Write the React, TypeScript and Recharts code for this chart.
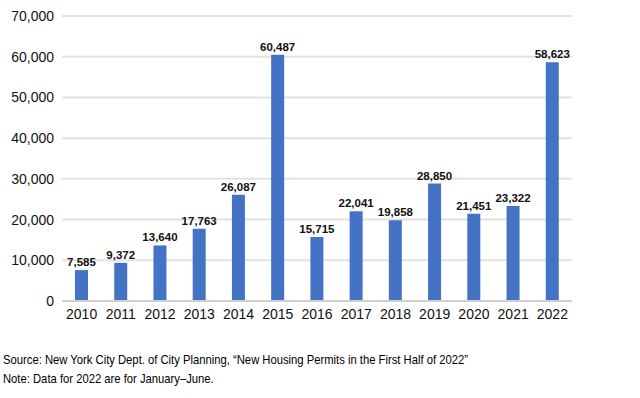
import { BarChart, Bar, XAxis, YAxis, CartesianGrid, LabelList } from "recharts";

const years = ["2010", "2011", "2012", "2013", "2014", "2015", "2016", "2017", "2018", "2019", "2020", "2021", "2022"];
const permits = [7585, 9372, 13640, 17763, 26087, 60487, 15715, 22041, 19858, 28850, 21451, 23322, 58623];
const yTicks = [0, 10000, 20000, 30000, 40000, 50000, 60000, 70000];

const data = years.map((year, i) => ({ year, permits: permits[i] }));

const fmt = (v: number) => v.toLocaleString("en-US");

export default function App() {
  return (
    <div
      style={{
        position: "absolute",
        left: 0,
        top: 0,
        width: 640,
        height: 398,
        background: "#fff",
        fontFamily: "'Liberation Sans', Arial, sans-serif",
      }}
    >
      <BarChart
        width={640}
        height={330}
        data={data}
        margin={{ top: 16, right: 68, bottom: 9, left: 0 }}
      >
        <CartesianGrid vertical={false} stroke="#e2e2e2" strokeWidth={2} />
        <XAxis
          dataKey="year"
          tickLine={false}
          axisLine={{ stroke: "#d0d0d0", strokeWidth: 2 }}
          tick={{ fill: "#111", fontSize: 14 }}
          height={20}
          interval={0}
        />
        <YAxis
          width={62}
          domain={[0, 70000]}
          ticks={yTicks}
          tickFormatter={fmt}
          tickLine={false}
          axisLine={false}
          tick={{ fill: "#111", fontSize: 14 }}
        />
        <Bar dataKey="permits" fill="#4472c4" barSize={13} isAnimationActive={false}>
          <LabelList
            dataKey="permits"
            position="top"
            formatter={(v: any) => fmt(Number(v))}
            style={{ fill: "#111", fontSize: 11.5, fontWeight: 700 }}
            offset={4}
          />
        </Bar>
      </BarChart>
      <div
        style={{
          position: "absolute",
          left: 3,
          top: 350,
          fontSize: 13,
          lineHeight: "19px",
          color: "#000",
          whiteSpace: "nowrap",
          transform: "scaleX(0.865)",
          transformOrigin: "left top",
        }}
      >
        <div>Source: New York City Dept. of City Planning, “New Housing Permits in the First Half of 2022”</div>
        <div>Note: Data for 2022 are for January–June.</div>
      </div>
    </div>
  );
}
